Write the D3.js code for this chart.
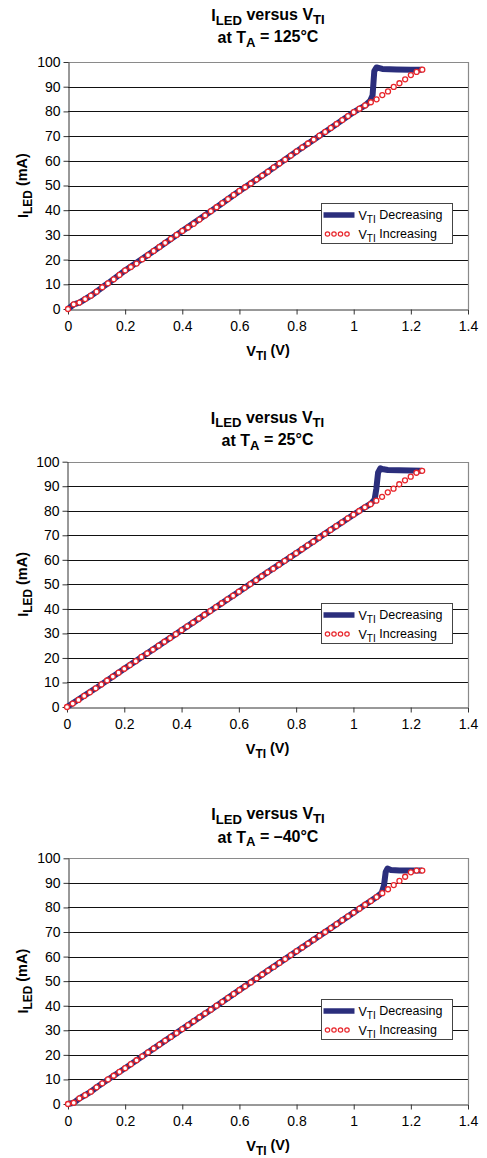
<!DOCTYPE html>
<html>
<head>
<meta charset="utf-8">
<script src="https://cdn.jsdelivr.net/npm/d3@7"></script>
<style>
  body { margin: 0; background: #fff; }
  svg { display: block; font-family: "Liberation Sans", Arial, sans-serif; }
  .tick text { font-size: 14px; fill: #000; }
</style>
</head>
<body>
<script>
// valores
const vTicks = [0, 0.2, 0.4, 0.6, 0.8, 1, 1.2, 1.4];
const iTicks = [0, 10, 20, 30, 40, 50, 60, 70, 80, 90, 100];

// V_TI (V) para la serie creciente, paso de 0.02
const vInc = [0,0.02,0.04,0.06,0.08,0.10,0.12,0.14,0.16,0.18,0.20,0.22,0.24,0.26,0.28,0.30,
  0.32,0.34,0.36,0.38,0.40,0.42,0.44,0.46,0.48,0.50,0.52,0.54,0.56,0.58,0.60,0.62,0.64,0.66,
  0.68,0.70,0.72,0.74,0.76,0.78,0.80,0.82,0.84,0.86,0.88,0.90,0.92,0.94,0.96,0.98,1.00,1.02,
  1.04,1.06,1.08,1.10,1.12,1.14,1.16,1.18,1.20,1.22,1.24];

// I_LED (mA), V_TI creciente
const inc125 = [0,1.9,2.6,4.0,5.4,7.0,8.8,10.4,12.0,13.8,15.6,17.0,18.4,20.1,21.8,23.5,
  25.1,26.8,28.4,30.0,31.6,33.0,34.5,36.2,37.9,39.6,41.2,42.9,44.5,46.2,47.8,49.3,50.8,52.4,
  54.0,55.6,57.3,58.9,60.5,62.1,63.8,65.4,67.0,68.6,70.2,71.7,73.3,74.9,76.5,78.1,79.7,81.1,
  82.4,83.7,84.9,86.6,88.1,89.9,91.4,93.0,94.7,96.0,96.9];
const inc25 = [0,1.4,2.9,4.5,6.0,7.6,9.2,10.8,12.4,14.0,15.6,17.1,18.7,20.4,21.9,23.4,
  25.0,26.6,28.1,29.7,31.3,32.9,34.4,36.0,37.6,39.1,40.7,42.3,43.9,45.4,47.0,48.6,50.1,51.7,
  53.3,54.9,56.4,58.0,59.6,61.2,62.7,64.3,65.9,67.4,69.0,70.6,72.2,73.7,75.3,76.9,78.4,79.9,
  81.4,82.7,84.1,85.7,87.5,89.0,90.8,92.4,93.9,95.5,96.3];
const incM40 = [0,0.5,2.3,3.6,5.0,6.8,8.4,10.0,11.5,13.1,14.6,16.2,17.8,19.4,21.0,22.6,
  24.2,25.8,27.3,28.9,30.5,32.1,33.7,35.3,36.9,38.4,40.0,41.6,43.2,44.8,46.4,47.9,49.5,51.1,
  52.7,54.3,55.8,57.4,59.0,60.6,62.2,63.7,65.3,66.9,68.5,70.0,71.6,73.2,74.8,76.4,77.9,79.5,
  81.1,82.6,84.2,85.8,87.4,89.1,90.8,92.5,94.3,95.0,95.0];

// V_TI decreciente
const dec125V = [0,0.02,0.04,0.06,0.08,0.1,0.12,0.14,0.2,0.3,0.4,0.5,0.6,0.7,0.8,0.9,1.0,
  1.04,1.058,1.066,1.072,1.08,1.1,1.15,1.2,1.24];
const dec125I = [0,1.9,2.6,4.0,5.4,7.0,8.8,10.4,15.6,23.5,31.6,39.6,47.8,55.6,63.8,71.7,79.7,
  82.4,84.3,86.5,96.3,97.8,97.2,97.0,96.9,96.9];
const dec25V = [0,0.1,0.2,0.3,0.4,0.5,0.6,0.7,0.8,0.9,1.0,
  1.04,1.06,1.074,1.08,1.086,1.094,1.1,1.12,1.16,1.2,1.24];
const dec25I = [0,7.6,15.6,23.4,31.3,39.1,47.0,54.9,62.7,70.6,78.4,
  81.4,82.8,84.6,89,95.5,97.3,97.0,96.6,96.5,96.4,96.3];
const decM40V = [0,0.02,0.04,0.06,0.08,0.1,0.12,0.2,0.3,0.4,0.5,0.6,0.7,0.8,0.9,1.0,
  1.04,1.08,1.098,1.106,1.112,1.118,1.13,1.16,1.2,1.24];
const decM40I = [0,0.5,2.3,3.6,5.0,6.8,8.4,14.6,22.6,30.5,38.4,46.4,54.3,62.2,70.0,77.9,
  81.1,84.2,85.9,89,94.5,95.8,95.2,95.0,95.0,95.0];

const temps = ["125°C", "25°C", "\u201340°C"];

let width = 487, height = 1158;
let navy = "#2b2e7c", red = "#e8262c";

let svg = d3.select("body").append("svg")
  .attr("width", width)
  .attr("height", height);

//posiciones de cada panel
let panels = [
  {top: 62, bottom: 309, left: 68, t1: 21, t2: 42.7, inc: inc125, decV: dec125V, decI: dec125I},
  {top: 461.7, bottom: 707, left: 67, t1: 423.5, t2: 446, inc: inc25, decV: dec25V, decI: dec25I},
  {top: 858.3, bottom: 1104, left: 68, t1: 820, t2: 842.5, inc: incM40, decV: decM40V, decI: decM40I}
];

panels.forEach(function(p, k) {
  let right = 468;
  let x = d3.scaleLinear().domain([0, 1.4]).range([p.left, right]);
  let y = d3.scaleLinear().domain([0, 100]).range([p.bottom, p.top]);
  let g = svg.append("g");
  let cx = (p.left + right) / 2;

  //titulo
  let l1 = g.append("text").attr("x", cx).attr("y", p.t1).attr("text-anchor", "middle")
    .attr("font-size", 16).attr("font-weight", "bold");
  l1.append("tspan").text("I");
  l1.append("tspan").attr("dy", "0.3em").attr("font-size", "0.82em").text("LED");
  l1.append("tspan").attr("dy", "-0.3em").text(" versus V");
  l1.append("tspan").attr("dy", "0.3em").attr("font-size", "0.82em").text("TI");
  let l2 = g.append("text").attr("x", cx).attr("y", p.t2).attr("text-anchor", "middle")
    .attr("font-size", 16).attr("font-weight", "bold");
  l2.append("tspan").text("at T");
  l2.append("tspan").attr("dy", "0.3em").attr("font-size", "0.82em").text("A");
  l2.append("tspan").attr("dy", "-0.3em").text(" = " + temps[k]);

  //rejilla horizontal
  g.selectAll("line.grid").data(iTicks.filter(d => d > 0 && d < 100)).enter()
    .append("line").attr("class", "grid")
    .attr("x1", p.left).attr("x2", right)
    .attr("y1", d => Math.round(y(d)) + 0.5).attr("y2", d => Math.round(y(d)) + 0.5)
    .attr("stroke", "#111").attr("stroke-width", 1);

  //borde
  g.append("path")
    .attr("d", "M" + p.left + "," + (Math.round(p.top) + 0.5) + "H" + (right + 0.5) + "V" + p.bottom)
    .attr("fill", "none").attr("stroke", "#8a8a8a").attr("stroke-width", 1.2);

  //ejes
  let yAxis = d3.axisLeft(y).tickValues(iTicks).tickSize(5).tickSizeOuter(0).tickPadding(3);
  let ya = g.append("g").attr("transform", "translate(" + (p.left + 0.5) + ",0)").call(yAxis);
  let xAxis = d3.axisBottom(x).tickValues(vTicks).tickSize(5).tickSizeOuter(0).tickPadding(7)
    .tickFormat(d3.format("~g"));
  let xa = g.append("g").attr("transform", "translate(0," + (Math.round(p.bottom) + 0.5) + ")").call(xAxis);
  [ya, xa].forEach(a => {
    a.select(".domain").attr("stroke", "#333");
    a.selectAll(".tick line").attr("stroke", "#333");
    a.selectAll(".tick text").attr("font-family", null).attr("font-size", null);
  });

  //etiquetas de ejes
  let xt = g.append("text").attr("x", cx).attr("y", p.bottom + 47).attr("text-anchor", "middle")
    .attr("font-size", 14.5).attr("font-weight", "bold");
  xt.append("tspan").text("V");
  xt.append("tspan").attr("dy", "0.32em").attr("font-size", "0.82em").text("TI");
  xt.append("tspan").attr("dy", "-0.32em").text(" (V)");
  let yt = g.append("text")
    .attr("transform", "translate(28," + ((p.top + p.bottom) / 2) + ") rotate(-90)")
    .attr("text-anchor", "middle").attr("font-size", 14.5).attr("font-weight", "bold");
  yt.append("tspan").text("I");
  yt.append("tspan").attr("dy", "0.32em").attr("font-size", "0.82em").text("LED");
  yt.append("tspan").attr("dy", "-0.32em").text(" (mA)");

  //serie decreciente
  let line = d3.line().x(d => x(d[0])).y(d => y(d[1]));
  g.append("path")
    .datum(p.decV.map((v, i) => [v, p.decI[i]]))
    .attr("d", line)
    .attr("fill", "none").attr("stroke", navy).attr("stroke-width", 6)
    .attr("stroke-linejoin", "round");

  //serie creciente
  g.selectAll("circle.inc").data(vInc.map((v, i) => [v, p.inc[i]])).enter()
    .append("circle").attr("class", "inc")
    .attr("cx", d => x(d[0])).attr("cy", d => y(d[1])).attr("r", 2.5)
    .attr("fill", "#fff").attr("stroke", red).attr("stroke-width", 1.3);

  //leyenda
  let ly = p.top + 141;
  let lg = g.append("g").attr("transform", "translate(321.5," + (Math.round(ly) + 0.5) + ")");
  lg.append("rect").attr("width", 131).attr("height", 40)
    .attr("fill", "#fff").attr("stroke", "#444").attr("stroke-width", 1);
  lg.append("line").attr("x1", 2).attr("x2", 33).attr("y1", 11.5).attr("y2", 11.5)
    .attr("stroke", navy).attr("stroke-width", 5.5);
  lg.selectAll("circle").data([0, 1, 2, 3]).enter().append("circle")
    .attr("cx", d => 6 + d * 6.5).attr("cy", 30.5).attr("r", 2.2)
    .attr("fill", "#fff").attr("stroke", red).attr("stroke-width", 1.2);
  ["Decreasing", "Increasing"].forEach(function(s, i) {
    let t = lg.append("text").attr("x", 37).attr("y", 16 + i * 19.5).attr("font-size", 12.5);
    t.append("tspan").text("V");
    t.append("tspan").attr("dy", "0.3em").attr("font-size", "0.8em").text("TI");
    t.append("tspan").attr("dy", "-0.3em").text(" " + s);
  });
});
</script>
</body>
</html>
